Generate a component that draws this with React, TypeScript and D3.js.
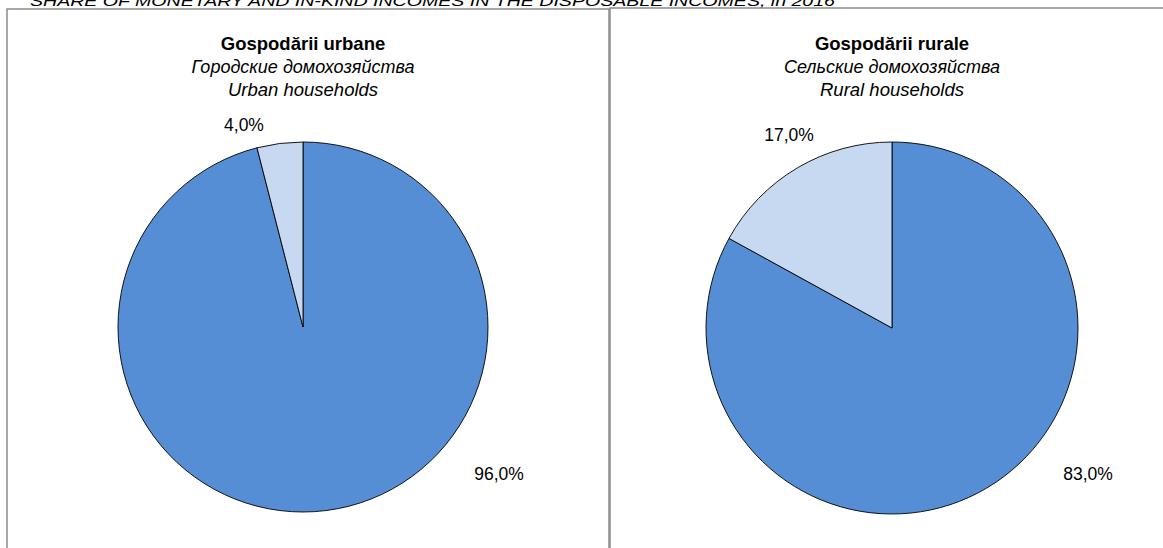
import React from "react";
import * as d3 from "d3";

const chartTitle = "SHARE OF MONETARY AND IN-KIND INCOMES IN THE DISPOSABLE INCOMES, in 2016";
const categories = ["Monetary incomes", "In-kind incomes"];
const urbanValues = [96.0, 4.0];
const ruralValues = [83.0, 17.0];
const urbanTitles = ["Gospodării urbane", "Городские домохозяйства", "Urban households"];
const ruralTitles = ["Gospodării rurale", "Сельские домохозяйства", "Rural households"];
const colors = ["#558ED5", "#C6D9F0"];

const fmt = (v: number) => v.toFixed(1).replace(".", ",") + "%";

type PieProps = {
  values: number[];
  titles: string[];
  cx: number;
  cy: number;
  r: number;
  labelPos: [number, number][];
};

function PieChart({ values, titles, cx, cy, r, labelPos }: PieProps) {
  const pie = d3.pie<number>().sort(null).value((d) => d);
  const arcs = pie(values);
  const arc = d3.arc<d3.PieArcDatum<number>>().innerRadius(0).outerRadius(r);
  return (
    <g>
      <g transform={`translate(${cx},${cy})`}>
        {arcs.map((a, i) => (
          <path key={categories[i]} d={arc(a) || ""} fill={colors[i]} stroke="#000" strokeWidth={0.9} />
        ))}
      </g>
      <text x={cx} y={50} textAnchor="middle" fontWeight="bold" fontSize={18.5}>{titles[0]}</text>
      <text x={cx} y={73} textAnchor="middle" fontStyle="italic" fontSize={18}>{titles[1]}</text>
      <text x={cx} y={96} textAnchor="middle" fontStyle="italic" fontSize={18.5}>{titles[2]}</text>
      {arcs.map((a, i) => (
        <text key={"l" + i} x={labelPos[i][0]} y={labelPos[i][1]} textAnchor="middle" fontSize={17.5}>
          {fmt(values[i])}
        </text>
      ))}
    </g>
  );
}

export default function App() {
  return (
    <svg
      width={1163}
      height={548}
      style={{ position: "absolute", left: 0, top: 0, fontFamily: "'Liberation Sans', Arial, sans-serif", background: "#fff" }}
    >
      <text x={30} y={6} fontSize={15} fontStyle="italic" textLength={805} lengthAdjust="spacingAndGlyphs">{chartTitle}</text>
      <rect x={7} y={9} width={602} height={560} fill="none" stroke="#8c8c8c" strokeWidth={1.5} />
      <rect x={610} y={8} width={600} height={560} fill="none" stroke="#8c8c8c" strokeWidth={1.5} />
      <PieChart values={urbanValues} titles={urbanTitles} cx={303} cy={327} r={185} labelPos={[[499, 480], [244, 131]]} />
      <PieChart values={ruralValues} titles={ruralTitles} cx={892} cy={328} r={186} labelPos={[[1088, 480], [789, 141]]} />
    </svg>
  );
}
